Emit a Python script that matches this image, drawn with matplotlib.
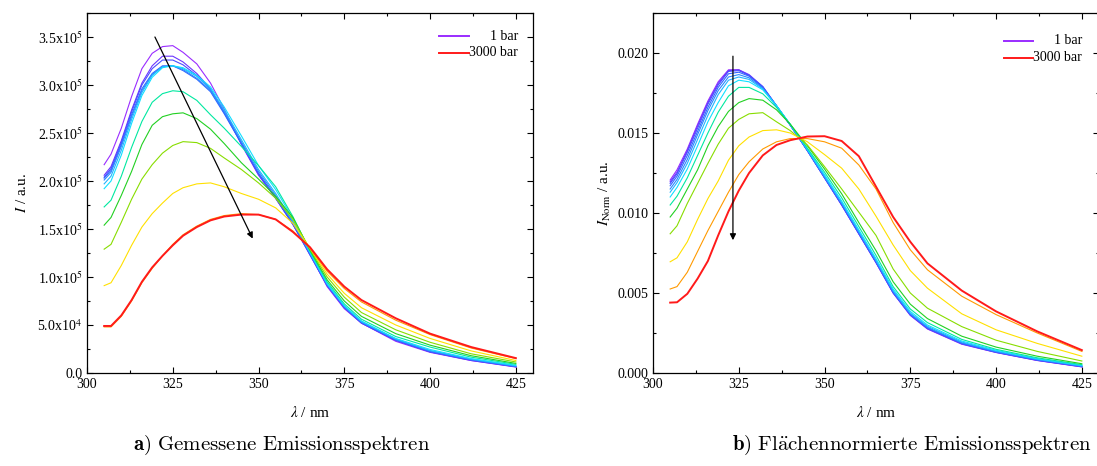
import numpy as np
import matplotlib
matplotlib.use('Agg')
import matplotlib.pyplot as plt
from matplotlib.ticker import FuncFormatter, MultipleLocator, AutoMinorLocator

plt.rcParams['font.family'] = ['Liberation Serif', 'DejaVu Serif']
plt.rcParams['mathtext.fontset'] = 'stix'

# wavelength grid (nm)
lam = [305, 307, 310, 313, 316, 319, 322, 325, 328, 332, 336, 340, 345, 350,
       355, 360, 365, 370, 375, 380, 390, 400, 412, 425]

# series names / colours: 1 bar (purple) ... 3000 bar (red)
names = ['purple', 'violet', 'indigo', 'blue', 'azure', 'sky', 'cyan',
         'gc', 'green', 'yg', 'yellow', 'orange', 'red']
colors = ['#9a2cff', '#6b35ff', '#4a4cff', '#3366ff', '#2a88ff', '#22b4ff', '#10e0ff',
          '#00e8a0', '#22d022', '#88dd00', '#ffe000', '#ff9a00', '#ff1a1a']

# measured spectra, I in 1e5 a.u.
I_purple = [2.17, 2.28, 2.55, 2.88, 3.17, 3.33, 3.40, 3.41, 3.34, 3.22, 3.02, 2.75, 2.38, 2.06,
            1.82, 1.55, 1.24, 0.90, 0.67, 0.52, 0.33, 0.215, 0.13, 0.062]
I_violet = [2.06, 2.15, 2.42, 2.74, 3.02, 3.20, 3.30, 3.30, 3.24, 3.12, 2.96, 2.72, 2.39, 2.07,
            1.82, 1.55, 1.23, 0.91, 0.68, 0.52, 0.34, 0.22, 0.13, 0.065]
I_indigo = [2.04, 2.13, 2.40, 2.72, 3.00, 3.17, 3.26, 3.26, 3.21, 3.10, 2.95, 2.71, 2.39, 2.07,
            1.82, 1.55, 1.23, 0.91, 0.68, 0.52, 0.34, 0.22, 0.135, 0.066]
I_blue = [2.03, 2.11, 2.38, 2.69, 2.96, 3.12, 3.20, 3.20, 3.15, 3.06, 2.93, 2.70, 2.39, 2.08,
          1.83, 1.56, 1.24, 0.92, 0.69, 0.53, 0.345, 0.225, 0.137, 0.068]
I_azure = [2.01, 2.09, 2.36, 2.67, 2.94, 3.11, 3.19, 3.20, 3.16, 3.07, 2.94, 2.72, 2.41, 2.10,
           1.85, 1.57, 1.25, 0.92, 0.69, 0.53, 0.35, 0.23, 0.14, 0.07]
I_sky = [1.97, 2.05, 2.32, 2.64, 2.92, 3.10, 3.19, 3.20, 3.17, 3.09, 2.96, 2.74, 2.43, 2.12,
         1.87, 1.58, 1.25, 0.93, 0.70, 0.54, 0.355, 0.235, 0.145, 0.075]
I_cyan = [1.92, 2.00, 2.27, 2.60, 2.89, 3.08, 3.18, 3.20, 3.18, 3.10, 2.98, 2.77, 2.47, 2.16,
          1.91, 1.61, 1.26, 0.93, 0.70, 0.54, 0.36, 0.245, 0.15, 0.08]
I_gc = [1.73, 1.80, 2.05, 2.35, 2.62, 2.82, 2.91, 2.94, 2.93, 2.84, 2.69, 2.55, 2.36, 2.16,
        1.94, 1.63, 1.27, 0.95, 0.72, 0.56, 0.38, 0.27, 0.165, 0.09]
I_green = [1.54, 1.62, 1.85, 2.10, 2.38, 2.58, 2.67, 2.70, 2.71, 2.65, 2.54, 2.39, 2.19, 2.02,
           1.84, 1.62, 1.28, 0.97, 0.75, 0.59, 0.41, 0.29, 0.18, 0.10]
I_yg = [1.29, 1.34, 1.57, 1.81, 2.02, 2.17, 2.29, 2.37, 2.41, 2.40, 2.34, 2.24, 2.12, 1.98,
        1.82, 1.60, 1.29, 1.00, 0.79, 0.63, 0.45, 0.32, 0.20, 0.115]
I_yellow = [0.91, 0.94, 1.12, 1.33, 1.52, 1.66, 1.77, 1.87, 1.93, 1.97, 1.98, 1.94, 1.87, 1.81,
            1.72, 1.56, 1.30, 1.03, 0.83, 0.68, 0.50, 0.36, 0.23, 0.13]
I_orange = [0.48, 0.48, 0.59, 0.75, 0.94, 1.09, 1.22, 1.34, 1.44, 1.53, 1.60, 1.64, 1.66, 1.65,
            1.60, 1.48, 1.30, 1.06, 0.88, 0.74, 0.55, 0.40, 0.26, 0.15]
I_red = [0.49, 0.49, 0.60, 0.76, 0.95, 1.10, 1.22, 1.33, 1.43, 1.52, 1.59, 1.63, 1.65, 1.65,
         1.60, 1.47, 1.31, 1.08, 0.90, 0.76, 0.57, 0.41, 0.27, 0.155]

# area-normalised spectra, in 1e-3 a.u.
N_purple = [12.06, 12.7, 14.0, 15.55, 17.0, 18.2, 18.95, 18.95, 18.6, 17.85, 16.65, 15.5, 13.9, 12.2,
            10.5, 8.7, 6.9, 5.0, 3.6, 2.75, 1.8, 1.28, 0.78, 0.38]
N_violet = [11.95, 12.55, 13.9, 15.45, 16.9, 18.1, 18.9, 18.95, 18.65, 17.9, 16.7, 15.5, 13.9, 12.2,
            10.5, 8.7, 6.9, 5.0, 3.62, 2.77, 1.82, 1.29, 0.79, 0.39]
N_indigo = [11.85, 12.45, 13.8, 15.3, 16.8, 18.0, 18.85, 18.9, 18.6, 17.9, 16.7, 15.5, 13.9, 12.2,
            10.5, 8.7, 6.92, 5.02, 3.64, 2.79, 1.84, 1.3, 0.8, 0.4]
N_blue = [11.7, 12.3, 13.6, 15.1, 16.6, 17.85, 18.7, 18.8, 18.55, 17.85, 16.7, 15.5, 13.9, 12.22,
          10.55, 8.75, 6.95, 5.05, 3.67, 2.82, 1.86, 1.32, 0.82, 0.42]
N_azure = [11.5, 12.1, 13.35, 14.9, 16.4, 17.65, 18.5, 18.65, 18.45, 17.8, 16.7, 15.5, 13.92, 12.25,
           10.6, 8.8, 7.0, 5.1, 3.7, 2.86, 1.89, 1.34, 0.84, 0.43]
N_sky = [11.3, 11.9, 13.1, 14.6, 16.1, 17.4, 18.3, 18.5, 18.35, 17.75, 16.7, 15.5, 13.95, 12.3,
         10.65, 8.85, 7.05, 5.15, 3.75, 2.92, 1.94, 1.37, 0.86, 0.45]
N_cyan = [11.0, 11.6, 12.75, 14.2, 15.7, 16.9, 17.95, 18.3, 18.2, 17.7, 16.7, 15.55, 14.0, 12.4,
          10.75, 8.95, 7.15, 5.25, 3.85, 3.0, 2.0, 1.42, 0.9, 0.48]
N_gc = [10.5, 11.05, 12.2, 13.6, 15.0, 16.3, 17.3, 17.85, 17.85, 17.45, 16.6, 15.55, 14.05, 12.55,
        10.95, 9.15, 7.35, 5.4, 4.0, 3.15, 2.1, 1.48, 0.95, 0.52]
N_green = [9.75, 10.3, 11.5, 12.7, 14.2, 15.4, 16.35, 16.9, 17.15, 17.05, 16.45, 15.55, 14.2, 12.75,
           11.2, 9.4, 7.65, 5.7, 4.3, 3.4, 2.3, 1.62, 1.05, 0.58]
N_yg = [8.7, 9.2, 10.6, 11.85, 13.1, 14.3, 15.3, 15.85, 16.2, 16.27, 15.7, 15.15, 14.25, 12.9,
        11.5, 10.05, 8.6, 6.5, 5.0, 4.05, 2.9, 2.05, 1.35, 0.75]
N_yellow = [6.95, 7.2, 8.2, 9.6, 10.9, 12.0, 13.3, 14.2, 14.75, 15.15, 15.2, 15.0, 14.45, 13.65,
            12.8, 11.5, 9.8, 8.0, 6.4, 5.3, 3.7, 2.7, 1.85, 1.05]
N_orange = [5.25, 5.4, 6.3, 7.6, 8.9, 10.1, 11.3, 12.4, 13.2, 14.0, 14.45, 14.65, 14.65, 14.45,
            14.05, 13.0, 11.5, 9.4, 7.7, 6.45, 4.8, 3.65, 2.5, 1.35]
N_red = [4.4, 4.42, 4.95, 5.9, 7.0, 8.6, 10.1, 11.4, 12.5, 13.6, 14.25, 14.55, 14.78, 14.8,
         14.5, 13.55, 11.65, 9.75, 8.2, 6.85, 5.15, 3.85, 2.6, 1.43]

I_all = [I_purple, I_violet, I_indigo, I_blue, I_azure, I_sky, I_cyan,
         I_gc, I_green, I_yg, I_yellow, I_orange, I_red]
N_all = [N_purple, N_violet, N_indigo, N_blue, N_azure, N_sky, N_cyan,
         N_gc, N_green, N_yg, N_yellow, N_orange, N_red]

legend_labels = ['1 bar', '3000 bar']

W, H = 1097, 466
fig = plt.figure(figsize=(W / 100, H / 100), dpi=100)
ax1 = fig.add_axes([87 / W, 1 - 373 / H, 446 / W, 360 / H])
ax2 = fig.add_axes([653 / W, 1 - 373 / H, 446 / W, 360 / H])

x = np.array(lam)
for i, c in enumerate(colors):
    lw = 1.4 if names[i] == 'red' else 0.8
    ax1.plot(x, np.array(I_all[i]) * 1e5, color=c, lw=lw)
    ax2.plot(x, np.array(N_all[i]) * 1e-3, color=c, lw=lw)


def sci_fmt(v, pos):
    if v <= 1e-9:
        return '0.0'
    e = int(np.floor(np.log10(v)))
    m = v / 10 ** e
    return f'{m:.1f}x10$^{{{e}}}$'


for ax in (ax1, ax2):
    ax.set_xlim(300, 430)
    ax.xaxis.set_major_locator(MultipleLocator(25))
    ax.xaxis.set_minor_locator(AutoMinorLocator(2))
    ax.yaxis.set_minor_locator(AutoMinorLocator(2))
    ax.tick_params(which='both', direction='in', top=True, right=True, labelsize=10)
    ax.tick_params(which='major', length=4.5, width=0.8)
    ax.tick_params(which='minor', length=2.5, width=0.8)
    for s in ax.spines.values():
        s.set_linewidth(0.9)

ax1.set_ylim(0, 3.75e5)
ax1.yaxis.set_major_locator(MultipleLocator(0.5e5))
ax1.yaxis.set_major_formatter(FuncFormatter(sci_fmt))
ax2.set_ylim(0, 0.0225)
ax2.yaxis.set_major_locator(MultipleLocator(0.005))
ax2.yaxis.set_major_formatter(FuncFormatter(lambda v, p: f'{v:.3f}'))

ax1.set_ylabel(r'$\mathbf{\mathit{I}}$ / a.u.', fontsize=11, labelpad=6)
ax2.set_ylabel(r'$I_{\mathrm{Norm}}$ / a.u.', fontsize=11, labelpad=3)
ax1.set_xlabel(r'$\lambda$ / nm', fontsize=11, labelpad=10)
ax2.set_xlabel(r'$\lambda$ / nm', fontsize=11, labelpad=10)

# arrows showing increasing pressure
ax1.annotate('', xy=(348.3, 1.40e5), xytext=(319.8, 3.5e5),
             arrowprops=dict(arrowstyle='-|>', color='black', lw=0.9,
                             mutation_scale=9, shrinkA=0, shrinkB=0))
ax2.annotate('', xy=(323.3, 0.0083), xytext=(323.3, 0.0198),
             arrowprops=dict(arrowstyle='-|>', color='black', lw=0.9,
                             mutation_scale=9, shrinkA=0, shrinkB=0))

# legends (text right-aligned like the original)
for ax, lx0, lx1, tx, ys in ((ax1, 0.789, 0.857, 0.966, (0.936, 0.889)),
                             (ax2, 0.786, 0.851, 0.962, (0.923, 0.876))):
    for lab, c, yy in zip(legend_labels, (colors[0], colors[-1]), ys):
        ax.plot([lx0, lx1], [yy, yy], color=c, lw=1.4, transform=ax.transAxes)
        ax.text(tx, yy, lab, transform=ax.transAxes, ha='right', va='center', fontsize=10)

fig.text(0.257, 0.045, r'$\mathbf{a)}\ \mathrm{Gemessene\ Emissionsspektren}$',
         ha='center', va='center', fontsize=15, math_fontfamily='cm')
fig.text(0.831, 0.045, r'$\mathbf{b)}\ \mathrm{Fl\ddot{a}chennormierte\ Emissionsspektren}$',
         ha='center', va='center', fontsize=15, math_fontfamily='cm')

fig.savefig('out.png', dpi=100)
